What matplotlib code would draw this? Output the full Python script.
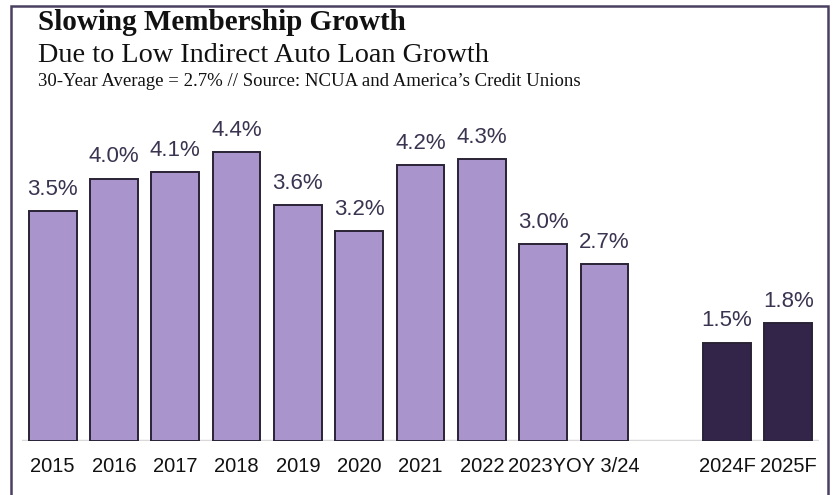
import matplotlib
matplotlib.use("Agg")
import matplotlib.pyplot as plt
from matplotlib.patches import Rectangle

categories = ["2015", "2016", "2017", "2018", "2019", "2020", "2021", "2022",
              "2023", "YOY 3/24", "", "2024F", "2025F"]
values = [3.5, 4.0, 4.1, 4.4, 3.6, 3.2, 4.2, 4.3, 3.0, 2.7, None, 1.5, 1.8]
forecast = [False] * 10 + [False, True, True]

LIGHT = "#a995cc"
DARK = "#33254a"
EDGE = "#2a2236"

fig = plt.figure(figsize=(8.33, 4.95), dpi=100)
ax = fig.add_axes([22 / 833, 1 - 441 / 495, (819 - 22) / 833, (441 - 113) / 495])

xs = [i for i, v in enumerate(values) if v is not None]
vals = [values[i] for i in xs]
cols = [DARK if forecast[i] else LIGHT for i in xs]
ax.bar(xs, vals, width=0.78, color=cols, edgecolor=EDGE, linewidth=1.4, zorder=3)

for x, v in zip(xs, vals):
    ax.annotate(f"{v:.1f}%", (x, v), xytext=(0, 8), textcoords="offset points",
                ha="center", va="bottom", fontsize=16, color="#3b3450",
                family=["Liberation Sans", "DejaVu Sans"])

ax.set_xlim(-0.5, 12.5)
ax.set_ylim(0, 5)
ax.axhline(0, color="#d9d9d9", linewidth=2.5, zorder=2)
for s in ax.spines.values():
    s.set_visible(False)
ax.set_yticks([])
ax.set_xticks([])

label_font = ["Liberation Sans Narrow", "Liberation Sans", "DejaVu Sans"]
for i, lab in enumerate(categories):
    if not lab or lab in ("2023", "YOY 3/24"):
        continue
    ax.text(i, -0.39, lab, ha="center", va="center", fontsize=14.5,
            color="#111111", family=label_font)
# "2023" and "YOY 3/24" sit next to each other as one label
ax.text(8.5, -0.39, "2023YOY 3/24", ha="center", va="center", fontsize=14.5,
        color="#111111", family=label_font)

serif = ["Georgia", "Liberation Serif", "DejaVu Serif"]
fig.text(38 / 833, 1 - 23 / 495, "Slowing Membership Growth", fontsize=21,
         fontweight="bold", family=serif, va="center", ha="left", color="#111111")
fig.text(38 / 833, 1 - 55 / 495, "Due to Low Indirect Auto Loan Growth",
         fontsize=20.3, family=serif, va="center", ha="left", color="#111111")
fig.text(38 / 833, 1 - 81 / 495,
         "30-Year Average = 2.7% // Source: NCUA and America\u2019s Credit Unions",
         fontsize=13.5, family=serif, va="center", ha="left", color="#111111")

fig.patches.append(Rectangle((11 / 833, -0.05), (828 - 11) / 833, 1.05 - 6 / 495,
                             transform=fig.transFigure, fill=False,
                             edgecolor="#4a4060", linewidth=1.8))

fig.savefig("out.png", dpi=100)
